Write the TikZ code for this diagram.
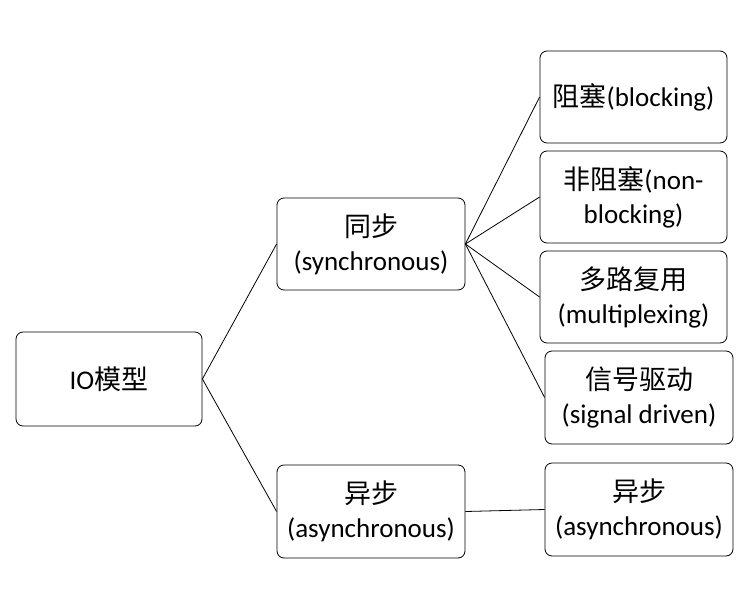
\documentclass[tikz,border=0pt]{standalone}
\usepackage{fontspec}
\setmainfont{Carlito}
\newfontfamily\cjk{Noto Sans CJK SC}
\begin{document}
\begin{tikzpicture}[x=1pt,y=-1pt,
  box/.style={draw=black,line width=0.8pt,rounded corners=7pt,align=center,font=\fontsize{27}{34}\selectfont,inner sep=0pt},
  conn/.style={line width=0.8pt}]
\useasboundingbox (0,0) rectangle (756,595);
\newcommand{\bx}[6]{\node[box,minimum width=#4-#2,minimum height=#5-#3] (#1) at ({(#2+#4)/2},{(#3+#5)/2}) {#6};}
\bx{io}{16}{332}{202}{426}{IO{\cjk 模型}}
\bx{sync}{277}{198}{465}{290}{{\cjk 同步}\\(synchronous)}
\bx{async}{277}{465}{465}{558}{{\cjk 异步}\\(asynchronous)}
\bx{b}{540}{51}{727}{143}{{\cjk 阻塞}(blocking)}
\bx{nb}{540}{151}{727}{243}{{\cjk 非阻塞}(non-\\blocking)}
\bx{mp}{540}{251}{727}{343}{{\cjk 多路复用}\\(multiplexing)}
\bx{sd}{545}{351}{733}{444}{{\cjk 信号驱动}\\(signal driven)}
\bx{as}{545}{463}{733}{556}{{\cjk 异步}\\(asynchronous)}
\draw[conn] (io.east) -- (sync.west);
\draw[conn] (io.east) -- (async.west);
\draw[conn] (sync.east) -- (b.west);
\draw[conn] (sync.east) -- (nb.west);
\draw[conn] (sync.east) -- (mp.west);
\draw[conn] (sync.east) -- (sd.west);
\draw[conn] (async.east) -- (as.west);
\end{tikzpicture}
\end{document}
